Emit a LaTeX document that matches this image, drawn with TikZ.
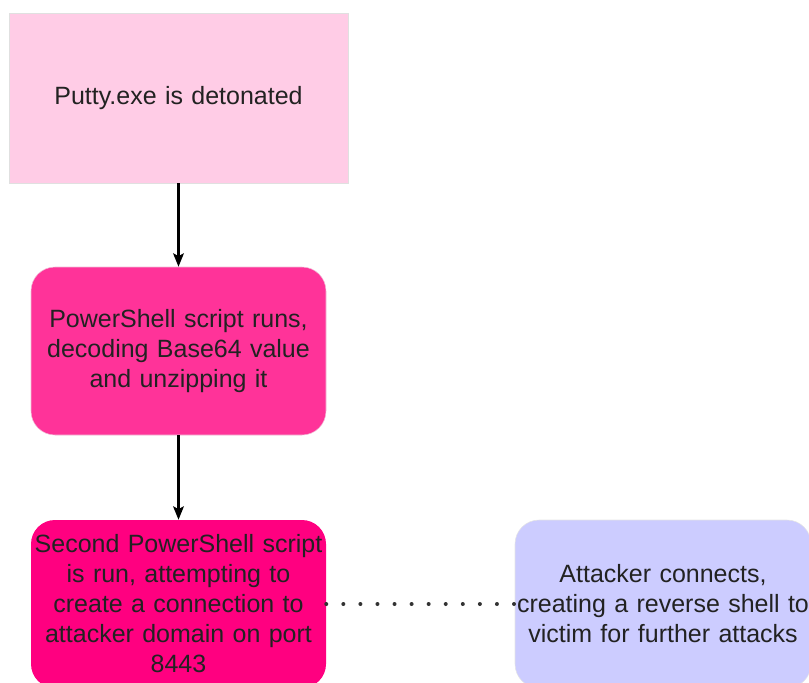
\documentclass[tikz,border=0pt]{standalone}
\usepackage{fontspec}
\setmainfont{Liberation Sans}
\usetikzlibrary{arrows.meta}
\definecolor{toppink}{HTML}{FFCCE6}
\definecolor{midpink}{HTML}{FF3399}
\definecolor{deeppink}{HTML}{FF0080}
\definecolor{lav}{HTML}{CCCCFF}
\definecolor{txt}{HTML}{222222}
\tikzset{
  box/.style={inner sep=0pt, align=center, text=txt,
    font=\fontsize{18.75pt}{22.5pt}\selectfont},
  rbox/.style={box, rounded corners=18pt},
  flow/.style={line width=1.6pt, -{Stealth[length=10pt,width=8pt,inset=2pt]}},
  dots/.style={line width=3pt, line cap=round, dash pattern=on 0pt off 12.8pt, draw=black!80}
}
\begin{document}
\begin{tikzpicture}[x=0.75pt,y=-0.75pt]
\useasboundingbox (0,0) rectangle (809,682);
\clip (0,0) rectangle (809,682);
\node[box, fill=toppink, draw=black!12, line width=0.6pt, minimum width=254.25pt, minimum height=127.5pt, text width=240pt] (a) at (178.5,98) {Putty.exe is detonated};
\node[rbox, fill=midpink, draw=midpink!80!black!30, line width=0.4pt, minimum width=221.25pt, minimum height=126pt, text width=215pt] (b) at (178.5,351) {PowerShell script runs,\\decoding Base64 value\\and unzipping it};
\node[rbox, fill=deeppink, minimum width=221.25pt, minimum height=126pt, text width=221pt] (c) at (178.5,604) {Second PowerShell script\\is run, attempting to\\create a connection to\\attacker domain on port\\8443};
\node[rbox, fill=lav, draw=black!10, line width=0.4pt, minimum width=222pt, minimum height=126pt, text width=222pt] (d) at (663,604) {Attacker connects,\\creating a reverse shell to\\victim for further attacks};
\draw[flow] (a.south) -- (b.north);
\draw[flow] (b.south) -- (c.north);
\draw[dots] (c.east) -- (d.west);
\end{tikzpicture}
\end{document}
